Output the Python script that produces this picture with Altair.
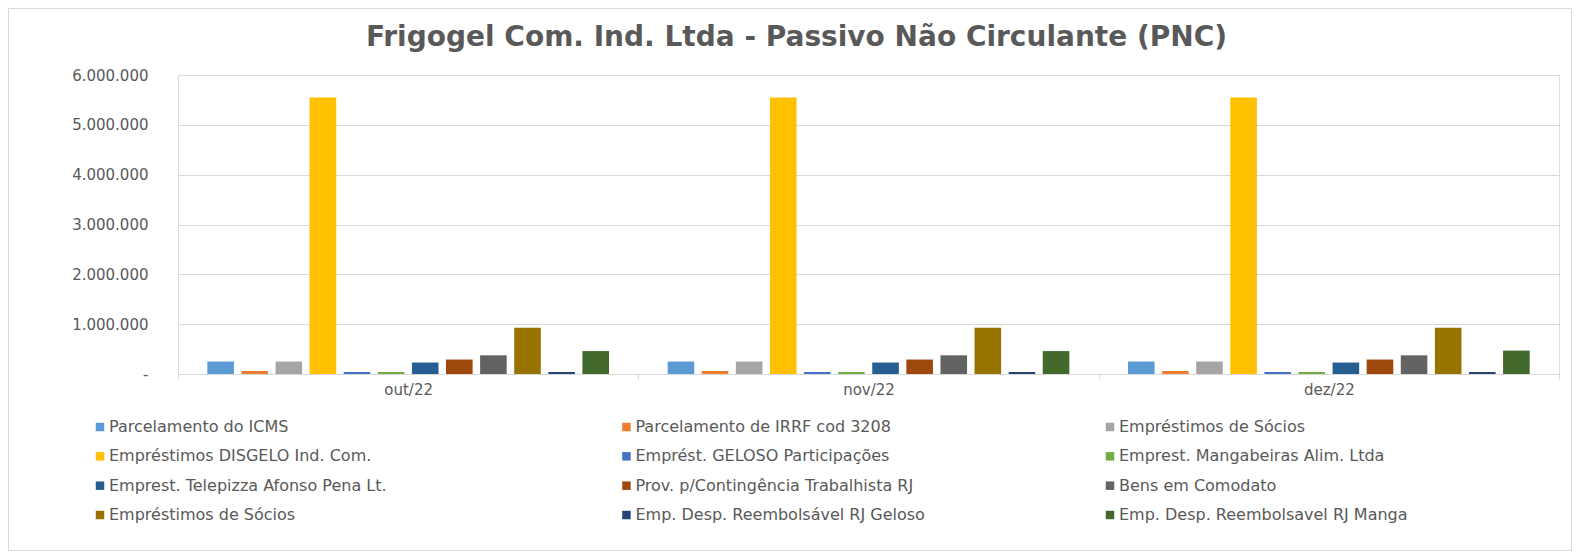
import altair as alt
import pandas as pd

months = ["out/22", "nov/22", "dez/22"]

series_names = [
    "Parcelamento do ICMS",
    "Parcelamento de IRRF cod 3208",
    "Empréstimos de Sócios",
    "Empréstimos DISGELO Ind. Com.",
    "Emprést. GELOSO Participações",
    "Emprest. Mangabeiras Alim. Ltda",
    "Emprest. Telepizza Afonso Pena Lt.",
    "Prov. p/Contingência Trabalhista RJ",
    "Bens em Comodato",
    "Empréstimos de Sócios",
    "Emp. Desp. Reembolsável RJ Geloso",
    "Emp. Desp. Reembolsavel RJ Manga",
]

series_colors = [
    "#5B9BD5", "#ED7D31", "#A5A5A5", "#FFC000",
    "#4472C4", "#70AD47", "#255E91", "#9E480E",
    "#636363", "#997300", "#264478", "#43682B",
]

v_icms = [250000, 250000, 250000]
v_irrf = [60000, 60000, 60000]
v_socios = [250000, 250000, 250000]
v_disgelo = [5550000, 5550000, 5550000]
v_geloso = [40000, 40000, 40000]
v_mangabeiras = [40000, 40000, 40000]
v_telepizza = [230000, 230000, 230000]
v_prov = [290000, 290000, 290000]
v_bens = [375000, 375000, 375000]
v_socios2 = [930000, 930000, 930000]
v_geloso_rj = [40000, 40000, 40000]
v_manga = [460000, 460000, 470000]

series_values = [v_icms, v_irrf, v_socios, v_disgelo, v_geloso, v_mangabeiras,
                 v_telepizza, v_prov, v_bens, v_socios2, v_geloso_rj, v_manga]

y_ticks = [0, 1000000, 2000000, 3000000, 4000000, 5000000, 6000000]

title_text = "Frigogel Com. Ind. Ltda - Passivo Não Circulante (PNC)"

# ---- tables built from the lists above ----
sids = [f"s{i:02d}" for i in range(len(series_names))]
rows = []
for sid, vals in zip(sids, series_values):
    for m, v in zip(months, vals):
        rows.append({"month": m, "sid": sid, "value": v})
bar_df = pd.DataFrame(rows)

leg_df = pd.DataFrame({
    "sid": sids,
    "name": series_names,
    "col": [i % 3 for i in range(len(sids))],
    "row": [i // 3 for i in range(len(sids))],
})

TXT = "#595959"
GRID = "#D9D9D9"
FONT = "DejaVu Sans"

color_scale = alt.Scale(domain=sids, range=series_colors)

bars = alt.Chart(bar_df).mark_bar().encode(
    x=alt.X("month:N", sort=months,
            scale=alt.Scale(paddingInner=0, paddingOuter=0),
            axis=alt.Axis(title=None, labelAngle=0, domainColor=GRID, tickColor=GRID,
                          tickSize=5, tickBand="extent", labelColor=TXT, labelFontSize=15,
                          labelFont=FONT, labelPadding=3, grid=False)),
    xOffset=alt.XOffset("sid:N", sort=sids,
                        scale=alt.Scale(paddingInner=0.22, paddingOuter=0.86)),
    y=alt.Y("value:Q", scale=alt.Scale(domain=[0, 6000000], nice=False),
            axis=alt.Axis(title=None, values=y_ticks, domain=False, ticks=False,
                          gridColor=GRID, labelColor=TXT, labelFontSize=15, labelFont=FONT,
                          labelPadding=30,
                          labelExpr="datum.value == 0 ? '-\u00a0\u00a0\u00a0' : replace(format(datum.value, ','), regexp(',', 'g'), '.')")),
    color=alt.Color("sid:N", scale=color_scale, legend=None),
)

leg_x = alt.X("col:Q", scale=alt.Scale(type="pow", exponent=0.94, domain=[0, 2], range=[-78, 932]),
              axis=None)
leg_y = alt.Y("row:Q", scale=alt.Scale(domain=[0, 3], range=[352, 440]), axis=None)

leg_sym = alt.Chart(leg_df).mark_square(size=72, opacity=1).encode(
    x=leg_x, y=leg_y,
    color=alt.Color("sid:N", scale=color_scale, legend=None),
)

leg_txt = alt.Chart(leg_df).mark_text(
    align="left", baseline="middle", dx=9, fontSize=16, font=FONT, color=TXT
).encode(x=leg_x, y=leg_y, text="name:N")

frame = alt.Chart(pd.DataFrame({"k": [0]})).mark_rect(
    fillOpacity=0, stroke=GRID, strokeWidth=1
).encode(x=alt.value(-169.5), x2=alt.value(1393.5), y=alt.value(-66.5), y2=alt.value(475.5))

chart = alt.layer(frame, bars, leg_sym, leg_txt).resolve_scale(
    x="independent", y="independent"
).properties(
    width=1381,
    height=299,
    autosize=alt.AutoSizeParams(type="none"),
    padding={"left": 170, "top": 67, "right": 14, "bottom": 178},
    title=alt.Title(title_text, fontSize=28, font="DejaVu Sans", fontWeight="bold",
                    color=TXT, anchor="middle", baseline="alphabetic",
                    dx=-72, dy=66, offset=0),
).configure_view(strokeWidth=0).configure(background="white")

chart.save("out.html", embed_options={"renderer": "svg", "actions": False})
